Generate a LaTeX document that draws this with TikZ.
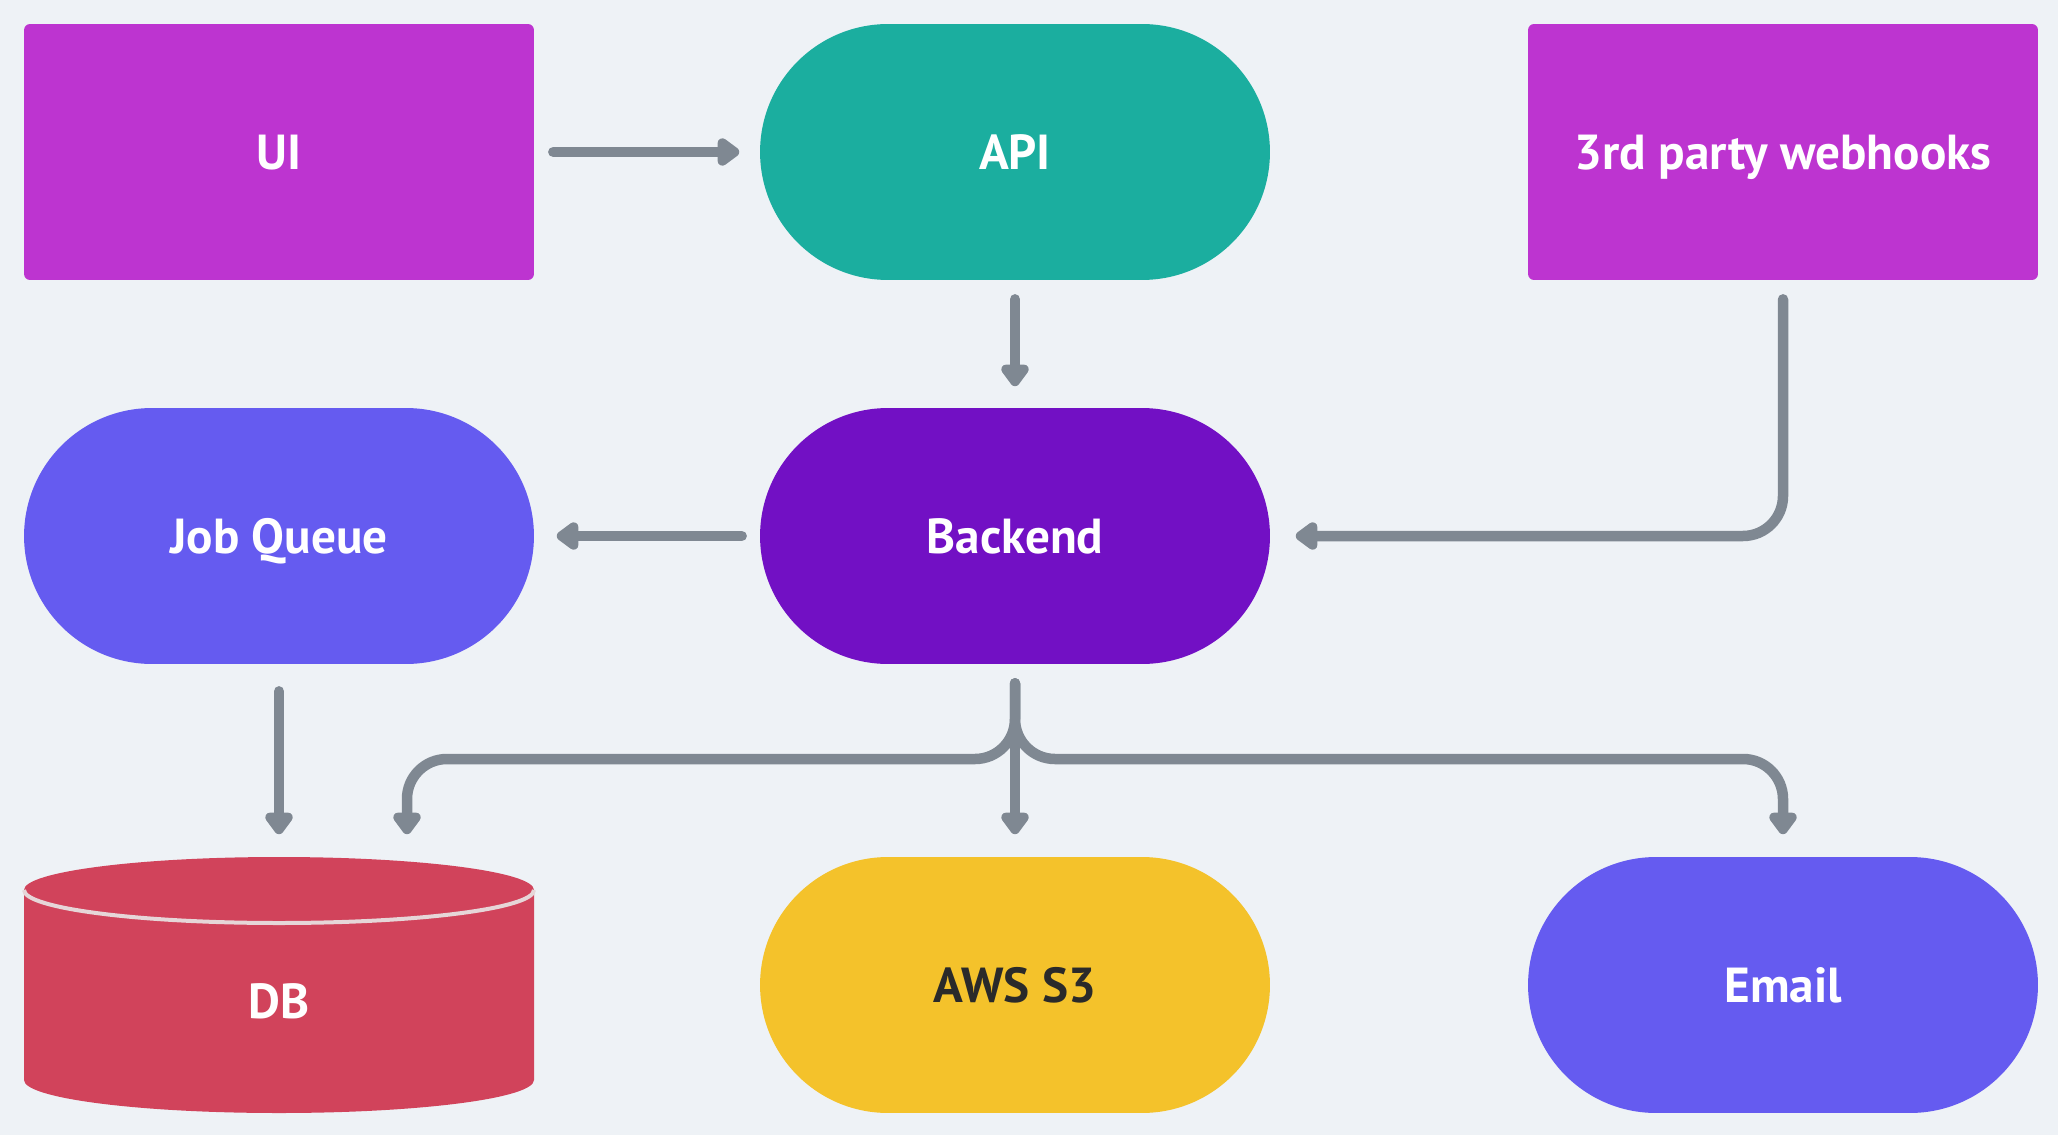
\documentclass[tikz,border=0pt]{standalone}
\usepackage{fontspec}
\setmainfont{PT Sans}
\usetikzlibrary{arrows.meta,calc}

\definecolor{bgcol}{HTML}{EEF2F6}
\definecolor{magentabox}{HTML}{BD34D0}
\definecolor{tealbox}{HTML}{1BAE9F}
\definecolor{violetbox}{HTML}{655BF0}
\definecolor{purplebox}{HTML}{7210C4}
\definecolor{redbox}{HTML}{D1435B}
\definecolor{yellowbox}{HTML}{F4C22B}
\definecolor{linkcol}{HTML}{7F8892}
\definecolor{rimcol}{HTML}{E6D6D8}
\definecolor{darktext}{HTML}{2A2A2A}

% solid triangular head with softened corners: a small inner triangle,
% filled and stroked with a wide round-joined pen so the whole head is covered
\pgfdeclarearrow{
  name = FlowHead,
  setup code = {
    \pgfarrowssettipend{0pt}
    \pgfarrowssetlineend{-10pt}
    \pgfarrowssetbackend{-13.6pt}
    \pgfarrowssetvisualbackend{-13.6pt}
  },
  drawing code = {
    \pgfsetcolor{linkcol}
    \pgfsetroundjoin
    \pgfsetlinewidth{5.4pt}
    \pgfpathmoveto{\pgfpoint{-4.1pt}{0pt}}
    \pgfpathlineto{\pgfpoint{-11pt}{5.1pt}}
    \pgfpathlineto{\pgfpoint{-11pt}{-5.1pt}}
    \pgfpathclose
    \pgfusepathqfillstroke
  },
  defaults = {}
}

\tikzset{
  x=0.02cm, y=-0.02cm,
  labeltext/.style={font=\fontsize{28}{32}\selectfont\bfseries, text=white,
      text height=19.5pt, text depth=0pt},
  boxnode/.style={labeltext, draw=none, minimum width=10.2cm, minimum height=5.12cm,
      inner sep=0pt, rounded corners=0.12cm},
  pillnode/.style={labeltext, draw=none, minimum width=10.2cm, minimum height=5.12cm,
      inner sep=0pt, rounded corners=2.56cm},
  link/.style={draw, color=linkcol, line width=0.21cm, line cap=round, -FlowHead},
  forklink/.style={link, rounded corners=0.8cm},
}

\begin{document}
\begin{tikzpicture}
  % canvas
  \fill[bgcol] (0,0) rectangle (2058,1135);
  \useasboundingbox (0,0) rectangle (2058,1135);

  % top row
  \node[boxnode, fill=magentabox] (ui) at (279,152) {UI};
  \node[pillnode, fill=tealbox] (api) at (1015,152) {API};
  \node[boxnode, fill=magentabox] (hooks) at (1783,152) {3rd party webhooks};

  % middle row
  \node[pillnode, fill=violetbox] (queue) at (279,536) {Job Queue};
  \node[pillnode, fill=purplebox] (backend) at (1015,536) {Backend};

  % bottom row
  \node[pillnode, fill=yellowbox, text=darktext] (s3) at (1015,985) {AWS S3};
  \node[pillnode, fill=violetbox] (email) at (1783,985) {Email};

  % database cylinder
  \fill[redbox] (24,890) -- (24,1080)
      arc[start angle=180, end angle=360, x radius=255, y radius=-33]
      -- (534,890)
      arc[start angle=0, end angle=180, x radius=255, y radius=-33] -- cycle;
  \draw[rimcol, line width=0.08cm]
      (24,890) arc[start angle=180, end angle=360, x radius=255, y radius=-33];
  \node[labeltext, minimum width=10.2cm, minimum height=5.12cm, inner sep=0pt]
      (db) at (279,985) {};
  \node[labeltext] (dblabel) at (279,1001) {DB};

  % connectors
  \draw[link] ($(ui.east)+(19,0)$) -- ($(api.west)+(-18,0)$);
  \draw[link] ($(api.south)+(0,19)$) -- ($(backend.north)+(0,-19)$);
  \draw[link] ($(backend.west)+(-18,0)$) -- ($(queue.east)+(20,0)$);
  \draw[forklink] ($(hooks.south)+(0,19)$) |- ($(backend.east)+(23,0)$);
  \draw[link] ($(queue.south)+(0,27)$) -- ($(db.north)+(0,-20)$);

  % fan-out from the backend
  \coordinate (fork) at ($(backend.south)+(0,19)$);
  \draw[forklink] (fork) |- (407,759) -- ($(db.north)+(128,-20)$);
  \draw[link] (fork) -- ($(s3.north)+(0,-20)$);
  \draw[forklink] (fork) |- (1783,759) -- ($(email.north)+(0,-20)$);
\end{tikzpicture}
\end{document}
